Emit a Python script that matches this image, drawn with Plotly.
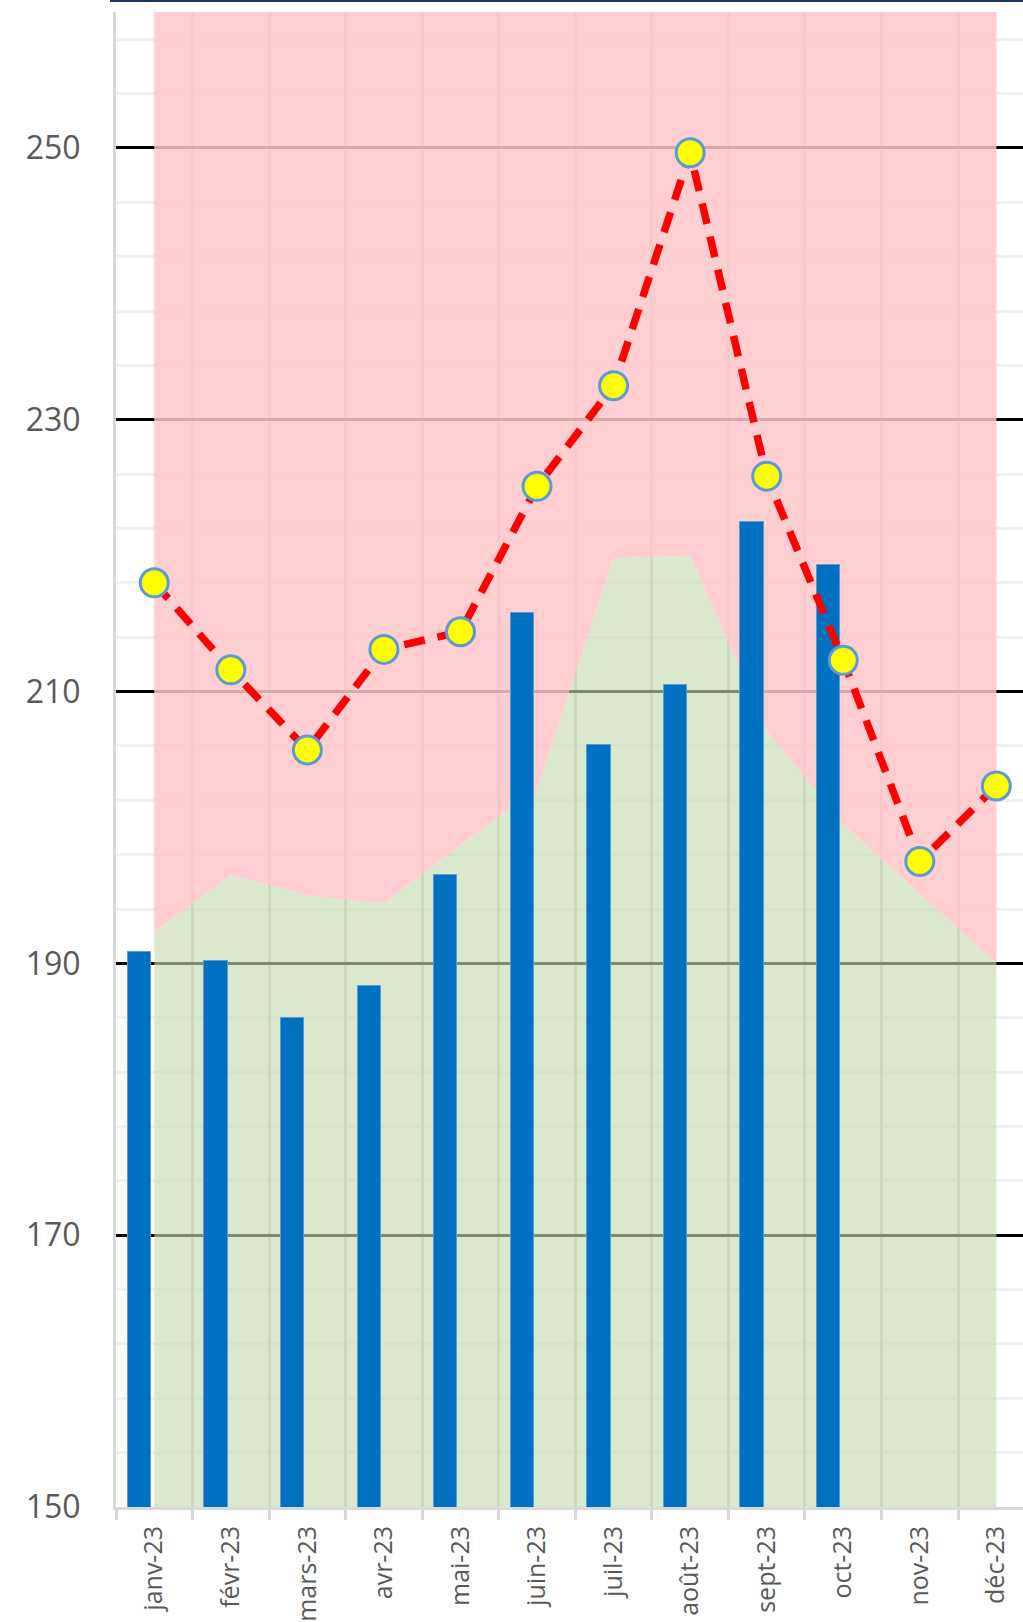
import plotly.graph_objects as go

# ---- data ----
months = ["janv-23", "févr-23", "mars-23", "avr-23", "mai-23", "juin-23",
          "juil-23", "août-23", "sept-23", "oct-23", "nov-23", "déc-23"]
bar_values = [190.8, 190.2, 186.0, 188.3, 196.5, 215.8, 206.1, 210.5, 222.5, 219.3, None, None]
line_values = [218.0, 211.6, 205.7, 213.1, 214.4, 225.1, 232.5, 249.65, 225.85, 212.3, 197.5, 203.05]
green_band = [192.3, 196.5, 195.0, 194.4, 198.7, 202.8, 219.8, 220.0, 207.1, 200.2, 195.1, 190.0]
pink_band_top = [260, 260, 260, 260, 260, 260, 260, 260, 260, 260, 260, 260]
y_ticks = [150, 170, 190, 210, 230, 250]

Y_RANGE = [150, 260]
X_RANGE = [-0.5, 11.348]
FONT = "Open Sans"

fig = go.Figure()

# background bands (base subplot)
fig.add_trace(go.Scatter(
    x=months, y=green_band, mode="lines", line=dict(width=0),
    fill="tozeroy", fillcolor="rgba(197,219,178,0.635)",
    xaxis="x", yaxis="y", showlegend=False, hoverinfo="skip"))
fig.add_trace(go.Scatter(
    x=months, y=pink_band_top, mode="lines", line=dict(width=0),
    fill="tonexty", fillcolor="rgba(255,197,201,0.85)",
    xaxis="x", yaxis="y", showlegend=False, hoverinfo="skip"))

# bars and line (overlay subplot, drawn on top of bands)
fig.add_trace(go.Bar(
    x=months, y=bar_values, offset=-0.345, width=0.305,
    marker=dict(color="#0070C0", line=dict(color="#5B9BD5", width=1)),
    xaxis="x2", yaxis="y2", showlegend=False))
fig.add_trace(go.Scatter(
    x=months, y=line_values, mode="lines+markers",
    line=dict(color="#FF0000", width=7.5, dash="21px,13px"),
    marker=dict(size=28, color="#FFFF00", line=dict(color="#5B9BD5", width=3)),
    xaxis="x2", yaxis="y2", showlegend=False))

fig.update_layout(
    width=1023, height=1622,
    margin=dict(l=116, r=0, t=12, b=115, autoexpand=False),
    paper_bgcolor="white", plot_bgcolor="white",
    bargap=0,
    xaxis=dict(
        type="category", categoryorder="array", categoryarray=months,
        range=X_RANGE, tickson="boundaries", automargin=False,
        showgrid=True, gridcolor="#D4D4D4", gridwidth=3,
        showline=True, linecolor="#D9D9D9", linewidth=3,
        ticks="outside", ticklen=10, tickwidth=3, tickcolor="#D9D9D9",
        ticklabelstandoff=6,
        tickangle=-90, tickfont=dict(family=FONT, size=25, color="#595959"),
        zeroline=False, fixedrange=True),
    yaxis=dict(
        range=Y_RANGE, tickvals=y_ticks, automargin=False,
        showgrid=True, gridcolor="#000000", gridwidth=3,
        minor=dict(dtick=4, tick0=150, showgrid=True, gridcolor="#F0F0F0", gridwidth=3),
        showline=True, linecolor="#D9D9D9", linewidth=3,
        ticks="", ticklabelstandoff=26,
        tickfont=dict(family=FONT, size=32, color="#595959"),
        zeroline=False, fixedrange=True),
    xaxis2=dict(
        type="category", categoryorder="array", categoryarray=months,
        range=X_RANGE, overlaying="x", visible=False, showgrid=False,
        automargin=False, fixedrange=True),
    yaxis2=dict(
        range=Y_RANGE, overlaying="y", visible=False, showgrid=False,
        automargin=False, zeroline=False, fixedrange=True),
    shapes=[dict(type="line", xref="paper", yref="paper",
                 x0=-0.0066, x1=1.0, y0=1.0074, y1=1.0074,
                 line=dict(color="#203864", width=2))],
)

fig.write_html("out.html", config={"displayModeBar": False},
               post_script="document.body.style.margin='0';")
